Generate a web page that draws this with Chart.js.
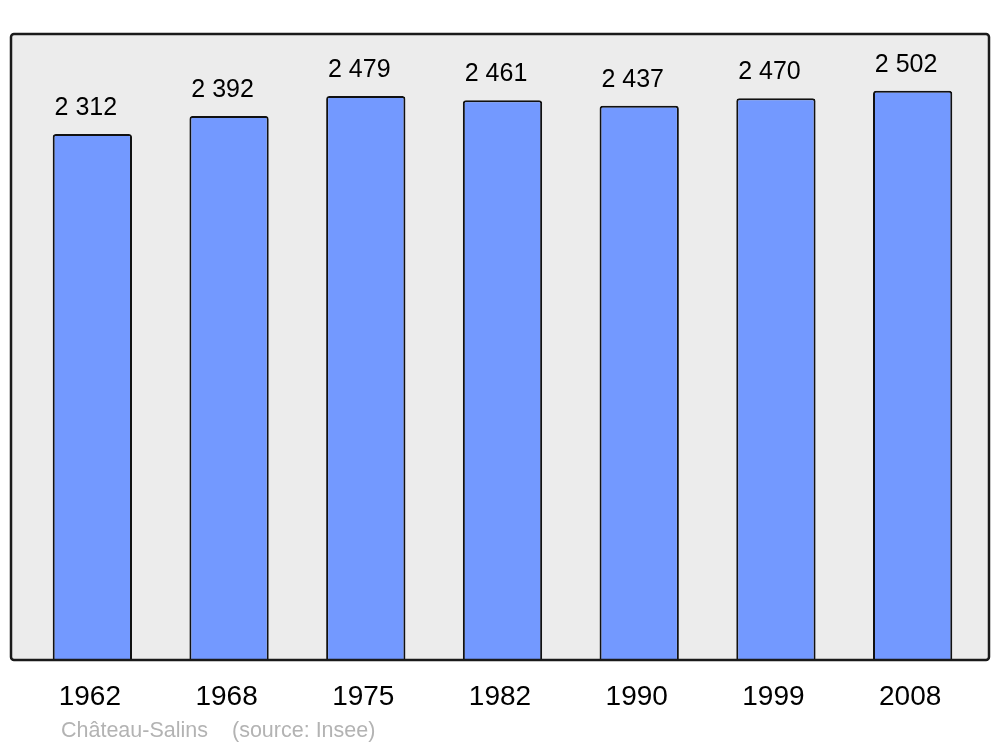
<!DOCTYPE html>
<html>
<head>
<meta charset="utf-8">
<script src="https://cdn.jsdelivr.net/npm/chart.js@4.4.0/dist/chart.umd.min.js"></script>
<style>
  html, body { margin: 0; padding: 0; background: #fff; }
  #wrap { width: 1000px; height: 747px; }
</style>
</head>
<body>
<div id="wrap"><canvas id="myChart" width="1000" height="747"></canvas></div>
<script>
const years = ['1962', '1968', '1975', '1982', '1990', '1999', '2008'];
const population = [2312, 2392, 2479, 2461, 2437, 2470, 2502];
const yMax = 2752;
const townName = 'Château-Salins';
const sourceText = '(source: Insee)';

// number with space as thousands separator, like "2 312"
const fmt = (v) => String(v).replace(/\B(?=(\d{3})+(?!\d))/g, ' ');

const framePlugin = {
  id: 'frame',
  beforeDraw(chart) {
    const ctx = chart.ctx;
    const a = chart.chartArea;
    const x0 = a.left - 13, x1 = a.right + 8;
    ctx.save();
    ctx.beginPath();
    ctx.roundRect(x0, a.top, x1 - x0, a.bottom - a.top, 3);
    ctx.fillStyle = '#ececec';
    ctx.fill();
    ctx.restore();
  },
  afterDatasetsDraw(chart) {
    const ctx = chart.ctx;
    const a = chart.chartArea;
    const x0 = a.left - 13, x1 = a.right + 8;
    ctx.save();
    ctx.beginPath();
    ctx.roundRect(x0, a.top, x1 - x0, a.bottom - a.top, 3);
    ctx.lineWidth = 2.5;
    ctx.strokeStyle = '#1a1a1a';
    ctx.stroke();

    // value labels above bars
    const meta = chart.getDatasetMeta(0);
    ctx.fillStyle = '#000';
    ctx.textAlign = 'center';
    ctx.textBaseline = 'alphabetic';
    ctx.font = '25px "Liberation Sans", Arial, sans-serif';
    meta.data.forEach((bar, i) => {
      ctx.fillText(fmt(population[i]), bar.x - 6.5, bar.y - 19);
    });

    // category labels
    const xs = chart.scales.x;
    ctx.font = '28px "Liberation Sans", Arial, sans-serif';
    years.forEach((y, i) => {
      ctx.fillText(y, xs.getPixelForTick(i) - 2.5, 705);
    });

    // caption
    ctx.textAlign = 'left';
    ctx.fillStyle = '#b3b3b3';
    ctx.font = '21.5px "Liberation Sans", Arial, sans-serif';
    ctx.fillText(townName, 61, 737);
    ctx.fillText(sourceText, 232, 737);
    ctx.restore();
  }
};

new Chart(document.getElementById('myChart'), {
  type: 'bar',
  data: {
    labels: years,
    datasets: [{
      data: population,
      backgroundColor: '#7399ff',
      borderColor: '#111',
      borderWidth: 2,
      borderRadius: 3,
      borderSkipped: 'start',
      categoryPercentage: 1,
      barPercentage: 0.58
    }]
  },
  options: {
    responsive: false,
    animation: false,
    devicePixelRatio: 1,
    layout: { padding: { left: 24, right: 19, top: 34, bottom: 87 } },
    plugins: { legend: { display: false }, tooltip: { enabled: false } },
    scales: {
      x: { display: false },
      y: { display: false, min: 0, max: yMax }
    }
  },
  plugins: [framePlugin]
});
</script>
</body>
</html>
